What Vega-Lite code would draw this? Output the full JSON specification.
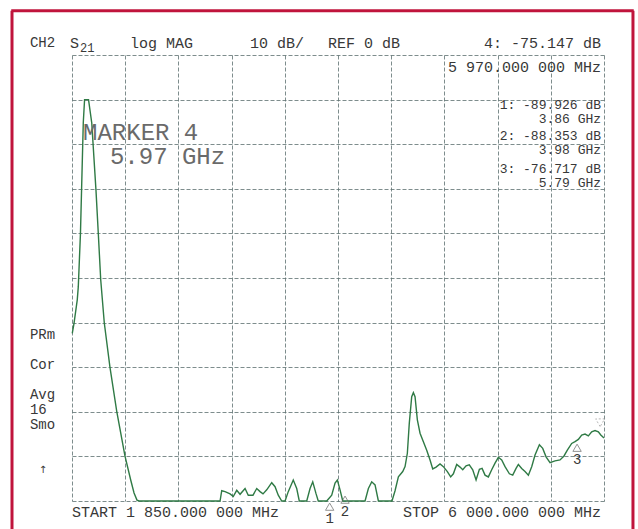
{
  "$schema": "https://vega.github.io/schema/vega-lite/v6.json",
  "width": 532,
  "height": 446,
  "autosize": {"type": "none"},
  "padding": {"left": 72, "top": 55, "right": 34, "bottom": 28},
  "background": "white",
  "data": {"values": [{}]},
  "config": {
    "view": {"stroke": null},
    "text": {"font": "Liberation Mono", "fontSize": 15, "color": "#383838", "baseline": "middle", "align": "left"}
  },
  "layer": [
    {
      "data": {"values": [
        {"f":1852,"db":-52.4},{"f":1866,"db":-50.1},{"f":1891,"db":-44.9},{"f":1899,"db":-42.0},{"f":1916,"db":-30.0},{"f":1938,"db":-5.2},{"f":1948,"db":0},{"f":1979,"db":0},{"f":2004,"db":-5.2},{"f":2037,"db":-20.3},{"f":2055,"db":-29.9},{"f":2074,"db":-40.4},{"f":2102,"db":-50.1},{"f":2146,"db":-60.0},{"f":2199,"db":-69.9},{"f":2263,"db":-79.9},{"f":2308,"db":-85.3},{"f":2334,"db":-88.2},{"f":2357,"db":-89.8},{"f":2373,"db":-90},{"f":3005,"db":-90},{"f":3018,"db":-87.7},{"f":3044,"db":-87.9},{"f":3083,"db":-88.4},{"f":3108,"db":-89.0},{"f":3135,"db":-87.6},{"f":3161,"db":-88.5},{"f":3200,"db":-87.2},{"f":3225,"db":-88.7},{"f":3262,"db":-88.7},{"f":3291,"db":-87.2},{"f":3317,"db":-87.9},{"f":3340,"db":-88.4},{"f":3369,"db":-87.5},{"f":3408,"db":-85.9},{"f":3434,"db":-86.8},{"f":3459,"db":-88.7},{"f":3486,"db":-90},{"f":3512,"db":-90},{"f":3537,"db":-87.9},{"f":3576,"db":-85.3},{"f":3603,"db":-87.2},{"f":3623,"db":-90},{"f":3681,"db":-90},{"f":3707,"db":-87.2},{"f":3728,"db":-85.7},{"f":3753,"db":-88.3},{"f":3771,"db":-90},{"f":3837,"db":-90},{"f":3876,"db":-88.7},{"f":3902,"db":-86.0},{"f":3920,"db":-85.3},{"f":3941,"db":-87.5},{"f":3962,"db":-90},{"f":4136,"db":-90},{"f":4162,"db":-87.2},{"f":4188,"db":-85.7},{"f":4214,"db":-86.4},{"f":4240,"db":-90},{"f":4346,"db":-90},{"f":4370,"db":-87.7},{"f":4396,"db":-84.6},{"f":4430,"db":-83.4},{"f":4448,"db":-82.3},{"f":4466,"db":-79.3},{"f":4481,"db":-72.6},{"f":4500,"db":-66.6},{"f":4513,"db":-65.7},{"f":4526,"db":-66.6},{"f":4544,"db":-71.8},{"f":4565,"db":-74.8},{"f":4591,"db":-76.7},{"f":4617,"db":-78.6},{"f":4643,"db":-80.8},{"f":4664,"db":-82.8},{"f":4690,"db":-82.4},{"f":4721,"db":-81.7},{"f":4747,"db":-82.3},{"f":4778,"db":-83.4},{"f":4804,"db":-84.6},{"f":4825,"db":-83.9},{"f":4851,"db":-81.8},{"f":4877,"db":-82.4},{"f":4898,"db":-83.0},{"f":4924,"db":-82.1},{"f":4949,"db":-81.9},{"f":4976,"db":-83.0},{"f":5002,"db":-85.3},{"f":5028,"db":-82.9},{"f":5049,"db":-82.7},{"f":5072,"db":-84.2},{"f":5098,"db":-84.6},{"f":5124,"db":-83.0},{"f":5150,"db":-81.5},{"f":5176,"db":-80.2},{"f":5202,"db":-80.8},{"f":5228,"db":-82.3},{"f":5262,"db":-83.9},{"f":5288,"db":-84.2},{"f":5314,"db":-82.7},{"f":5332,"db":-81.8},{"f":5358,"db":-82.7},{"f":5384,"db":-83.4},{"f":5410,"db":-84.2},{"f":5436,"db":-82.3},{"f":5462,"db":-79.7},{"f":5496,"db":-77.4},{"f":5522,"db":-78.2},{"f":5548,"db":-80.1},{"f":5579,"db":-81.4},{"f":5618,"db":-81.0},{"f":5657,"db":-80.8},{"f":5688,"db":-79.9},{"f":5714,"db":-78.6},{"f":5748,"db":-77.1},{"f":5774,"db":-76.7},{"f":5800,"db":-76.2},{"f":5826,"db":-75.2},{"f":5852,"db":-75.0},{"f":5878,"db":-75.4},{"f":5904,"db":-74.5},{"f":5930,"db":-74.2},{"f":5956,"db":-74.5},{"f":5975,"db":-75.2},{"f":6000,"db":-75.9}
      ]},
      "mark": {"type": "line", "color": "#2f7a45", "strokeWidth": 1.4, "clip": false},
      "encoding": {
        "x": {"field": "f", "type": "quantitative",
          "scale": {"domain": [1850, 6000], "nice": false, "zero": false},
          "axis": {"values": [1850,2265,2680,3095,3510,3925,4340,4755,5170,5585,6000], "grid": true, "gridColor": "#5e7070", "gridDash": [4, 2], "gridWidth": 1, "gridOpacity": 0.8, "labels": false, "ticks": false, "domain": false, "title": null}},
        "y": {"field": "db", "type": "quantitative",
          "scale": {"domain": [-90, 10], "nice": false, "zero": false},
          "axis": {"values": [-90,-80,-70,-60,-50,-40,-30,-20,-10,0,10], "grid": true, "gridColor": "#5e7070", "gridDash": [4, 2], "gridWidth": 1, "gridOpacity": 0.8, "labels": false, "ticks": false, "domain": false, "title": null}}
      }
    },
    {
      "mark": {"type": "rule", "color": "#c0143c", "strokeWidth": 3, "clip": false},
      "encoding": {"x": {"datum": 1382}, "y": {"datum": 19.9}, "y2": {"datum": -115}}
    },
    {
      "mark": {"type": "rule", "color": "#c0143c", "strokeWidth": 3, "clip": false},
      "encoding": {"x": {"datum": 6226}, "y": {"datum": 19.9}, "y2": {"datum": -115}}
    },
    {
      "mark": {"type": "rule", "color": "#c0143c", "strokeWidth": 3, "clip": false},
      "encoding": {"x": {"datum": 1376}, "x2": {"datum": 6232}, "y": {"datum": 19.9}}
    },
    {
      "data": {"values": [
        {"n": "1", "f": 3860, "db": -89.926},
        {"n": "2", "f": 3980, "db": -88.353},
        {"n": "3", "f": 5790, "db": -76.717}
      ]},
      "layer": [
        {"mark": {"type": "point", "shape": "triangle-up", "filled": false, "size": 70, "color": "#666", "strokeWidth": 1, "yOffset": 6, "clip": false},
         "encoding": {"x": {"field": "f", "type": "quantitative"}, "y": {"field": "db", "type": "quantitative"}}},
        {"mark": {"type": "text", "dy": 18, "align": "center", "fontSize": 14, "color": "#383838", "clip": false},
         "encoding": {"x": {"field": "f", "type": "quantitative"}, "y": {"field": "db", "type": "quantitative"}, "text": {"field": "n"}}}
      ]
    },
    {
      "mark": {"type": "point", "shape": "triangle-down", "filled": false, "size": 80, "color": "#999", "strokeDash": [2, 2], "strokeWidth": 1, "yOffset": -12, "clip": false},
      "encoding": {"x": {"datum": 5970}, "y": {"datum": -75.147}}
    },
    {"mark": {"type": "text", "text": "CH2", "fontSize": 14}, "encoding": {"x": {"datum": 1522}, "y": {"datum": 12.7}}},
    {"mark": {"type": "text", "text": "S", "fontSize": 15}, "encoding": {"x": {"datum": 1834}, "y": {"datum": 12.7}}},
    {"mark": {"type": "text", "text": "21", "fontSize": 12}, "encoding": {"x": {"datum": 1912}, "y": {"datum": 11.6}}},
    {"mark": {"type": "text", "text": "log MAG"}, "encoding": {"x": {"datum": 2302}, "y": {"datum": 12.7}}},
    {"mark": {"type": "text", "text": "10 dB/"}, "encoding": {"x": {"datum": 3239}, "y": {"datum": 12.7}}},
    {"mark": {"type": "text", "text": "REF 0 dB"}, "encoding": {"x": {"datum": 3847}, "y": {"datum": 12.7}}},
    {"mark": {"type": "text", "text": "4: -75.147 dB", "align": "right"}, "encoding": {"x": {"datum": 5977}, "y": {"datum": 12.7}}},
    {"mark": {"type": "text", "text": "5 970.000 000 MHz", "align": "right"}, "encoding": {"x": {"datum": 5977}, "y": {"datum": 7.3}}},
    {"mark": {"type": "text", "text": "1: -89.926 dB", "align": "right", "fontSize": 13}, "encoding": {"x": {"datum": 5977}, "y": {"datum": -1.21}}},
    {"mark": {"type": "text", "text": "3.86 GHz", "align": "right", "fontSize": 13}, "encoding": {"x": {"datum": 5977}, "y": {"datum": -4.35}}},
    {"mark": {"type": "text", "text": "2: -88.353 dB", "align": "right", "fontSize": 13}, "encoding": {"x": {"datum": 5977}, "y": {"datum": -8.16}}},
    {"mark": {"type": "text", "text": "3.98 GHz", "align": "right", "fontSize": 13}, "encoding": {"x": {"datum": 5977}, "y": {"datum": -11.3}}},
    {"mark": {"type": "text", "text": "3: -76.717 dB", "align": "right", "fontSize": 13}, "encoding": {"x": {"datum": 5977}, "y": {"datum": -15.56}}},
    {"mark": {"type": "text", "text": "5.79 GHz", "align": "right", "fontSize": 13}, "encoding": {"x": {"datum": 5977}, "y": {"datum": -18.7}}},
    {"mark": {"type": "text", "text": "MARKER 4", "fontSize": 24, "color": "#6a6a6a"}, "encoding": {"x": {"datum": 1936}, "y": {"datum": -7.5}}},
    {"mark": {"type": "text", "text": "5.97 GHz", "fontSize": 24, "color": "#6a6a6a"}, "encoding": {"x": {"datum": 2146}, "y": {"datum": -12.9}}},
    {"mark": {"type": "text", "text": "PRm", "fontSize": 14}, "encoding": {"x": {"datum": 1522}, "y": {"datum": -52.8}}},
    {"mark": {"type": "text", "text": "Cor", "fontSize": 14}, "encoding": {"x": {"datum": 1522}, "y": {"datum": -59.5}}},
    {"mark": {"type": "text", "text": "Avg", "fontSize": 14}, "encoding": {"x": {"datum": 1522}, "y": {"datum": -66.2}}},
    {"mark": {"type": "text", "text": "16", "fontSize": 14}, "encoding": {"x": {"datum": 1522}, "y": {"datum": -69.6}}},
    {"mark": {"type": "text", "text": "Smo", "fontSize": 14}, "encoding": {"x": {"datum": 1522}, "y": {"datum": -72.9}}},
    {"mark": {"type": "text", "text": "↑", "fontSize": 10, "align": "center", "font": "DejaVu Sans"}, "encoding": {"x": {"datum": 1624}, "y": {"datum": -83.0}}},
    {"mark": {"type": "text", "text": "START 1 850.000 000 MHz"}, "encoding": {"x": {"datum": 1850}, "y": {"datum": -92.5}}},
    {"mark": {"type": "text", "text": "STOP 6 000.000 000 MHz", "align": "right"}, "encoding": {"x": {"datum": 5977}, "y": {"datum": -92.5}}}
  ]
}
